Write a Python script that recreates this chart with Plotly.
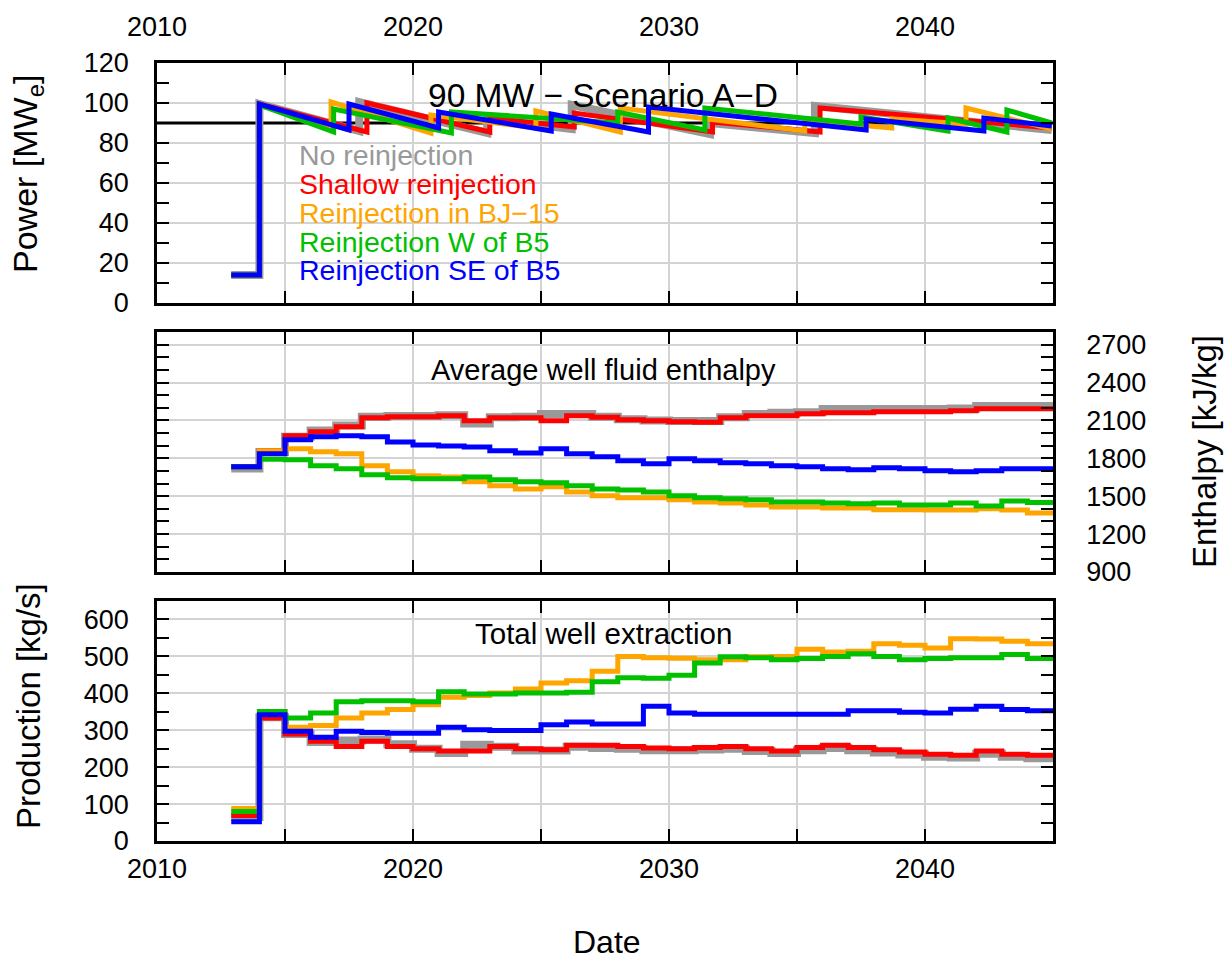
import plotly.graph_objects as go

# ---------------- data ----------------
scenarios = ["No reinjection", "Shallow reinjection", "Reinjection in BJ\u221215",
             "Reinjection W of B5", "Reinjection SE of B5"]
colors = ["#999999", "#ff0000", "#ffa500", "#00c000", "#0000ff"]
widths = [8, 5, 5, 5, 5]

target_power = 90  # MWe

# Power (sawtooth: repeated years mark make-up well jumps)
power_years = {
    "No reinjection": [2012.9, 2014.0, 2014.0, 2017.9, 2017.9, 2022.9, 2022.9, 2026.2, 2026.2,
                       2031.6, 2031.6, 2035.7, 2035.7, 2044.95],
    "Shallow reinjection": [2012.9, 2014.0, 2014.0, 2018.2, 2018.2, 2023.0, 2023.0, 2026.3, 2026.3,
                            2031.7, 2031.7, 2035.9, 2035.9, 2044.95],
    "Reinjection in BJ\u221215": [2012.9, 2014.0, 2014.0, 2016.8, 2016.8, 2020.7, 2020.7, 2024.8, 2024.8,
                             2028.1, 2028.1, 2035.3, 2035.3, 2038.7, 2038.7, 2041.6, 2041.6, 2044.95],
    "Reinjection W of B5": [2012.9, 2014.0, 2014.0, 2016.9, 2016.9, 2021.5, 2021.5, 2028.0, 2028.0,
                            2031.4, 2031.4, 2037.5, 2037.5, 2040.9, 2040.9, 2043.2, 2043.2, 2044.95],
    "Reinjection SE of B5": [2012.9, 2014.0, 2014.0, 2017.5, 2017.5, 2021.0, 2021.0, 2025.4, 2025.4,
                             2029.2, 2029.2, 2037.7, 2037.7, 2042.3, 2042.3, 2044.95],
}
power_values = {
    "No reinjection": [14, 14, 99.5, 86, 100.5, 85, 92, 87, 99, 84.5, 90, 85, 98.5, 86.5],
    "Shallow reinjection": [14, 14, 99.5, 85.5, 100, 85.5, 92.5, 88, 95, 85.5, 90.5, 85.5, 97.5, 87.5],
    "Reinjection in BJ\u221215": [14, 14, 99.5, 87, 100.5, 85, 94, 87.5, 96, 85.5, 97.5, 86, 91.5,
                             87.5, 92, 89.5, 97.5, 87],
    "Reinjection W of B5": [14, 14, 99, 85.5, 97, 85, 95.5, 90, 95.5, 86.5, 97.5, 89.5, 93,
                            86, 92.5, 85.5, 96.5, 90],
    "Reinjection SE of B5": [14, 14, 99.5, 86.5, 99.5, 87.5, 95.5, 86, 94.5, 85.5, 98, 86.5, 92,
                             86, 92.5, 88.5],
}

# Yearly step series (value held from each year to the next)
step_years = [2012.9] + list(range(2014, 2045))
end_year = 2045

enthalpy = {
    "No reinjection": [1720, 1850, 1970, 2020, 2060, 2130, 2135, 2135, 2140, 2075, 2125, 2130, 2150,
                       2150, 2130, 2110, 2100, 2095, 2095, 2125, 2150, 2160, 2165, 2190, 2190, 2190,
                       2190, 2190, 2195, 2215, 2215, 2215],
    "Shallow reinjection": [1733, 1860, 1978, 2010, 2049, 2121, 2129, 2129, 2137, 2097, 2121, 2121,
                            2097, 2137, 2125, 2105, 2097, 2089, 2085, 2121, 2137, 2137, 2153, 2161,
                            2161, 2169, 2169, 2169, 2177, 2193, 2193, 2193],
    "Reinjection in BJ\u221215": [1733, 1860, 1875, 1852, 1836, 1741, 1693, 1661, 1653, 1614, 1582,
                             1558, 1574, 1534, 1503, 1487, 1487, 1471, 1455, 1447, 1431, 1415,
                             1415, 1407, 1407, 1392, 1392, 1390, 1390, 1400, 1390, 1368],
    "Reinjection W of B5": [1733, 1792, 1788, 1741, 1717, 1669, 1646, 1638, 1638, 1653, 1630, 1614,
                            1606, 1582, 1558, 1550, 1534, 1503, 1487, 1479, 1471, 1455, 1455, 1447,
                            1440, 1447, 1431, 1431, 1447, 1423, 1463, 1450],
    "Reinjection SE of B5": [1733, 1836, 1947, 1970, 1978, 1970, 1930, 1906, 1898, 1890, 1860, 1843,
                             1875, 1836, 1812, 1780, 1756, 1796, 1780, 1764, 1756, 1741, 1733, 1717,
                             1709, 1725, 1717, 1701, 1693, 1701, 1717, 1717],
}

production = {
    "No reinjection": [65, 335, 290, 268, 272, 275, 262, 250, 238, 261, 255, 245, 245, 255, 252, 250,
                       246, 246, 248, 250, 244, 238, 246, 252, 246, 240, 234, 228, 226, 236, 228, 224],
    "Shallow reinjection": [69, 333, 290, 270, 256, 270, 256, 250, 244, 244, 256, 250, 247, 259, 259,
                            256, 252, 250, 253, 256, 250, 244, 253, 259, 253, 247, 241, 235, 232, 244,
                            235, 232],
    "Reinjection in BJ\u221215": [88, 351, 308, 313, 333, 347, 356, 369, 389, 394, 401, 412, 428, 434,
                             460, 500, 496, 495, 491, 491, 499, 500, 519, 512, 514, 534, 530, 523,
                             548, 547, 541, 534],
    "Reinjection W of B5": [80, 351, 333, 347, 377, 380, 380, 377, 404, 398, 398, 401, 401, 403, 431,
                            442, 441, 449, 482, 499, 496, 491, 494, 500, 507, 500, 491, 494, 496, 496,
                            505, 494],
    "Reinjection SE of B5": [52, 342, 297, 281, 297, 294, 292, 292, 308, 301, 299, 299, 315, 322, 317,
                             317, 365, 347, 343, 343, 343, 343, 343, 343, 353, 353, 349, 347, 357, 365,
                             356, 353],
}

x_tickvals = list(range(2010, 2046, 5))
x_ticktext = [str(v) if v % 10 == 0 else "" for v in x_tickvals]

# ---------------- layout geometry ----------------
W, H = 1231, 961
FONT = "Liberation Sans, Arial, Helvetica, sans-serif"
X0, X1 = 157, 1053
panels = [(63, 303), (332, 572), (601, 841)]


def ydom(top, bot):
    return [1 - bot / H, 1 - top / H]


fig = go.Figure()

step_x = step_years + [end_year]

fig.add_trace(go.Scatter(x=[2010, end_year], y=[target_power, target_power], mode="lines",
                         line=dict(color="black", width=3), xaxis="x", yaxis="y", showlegend=False))
for name, col, w in zip(scenarios, colors, widths):
    fig.add_trace(go.Scatter(x=power_years[name], y=power_values[name], mode="lines",
                             line=dict(color=col, width=w), xaxis="x", yaxis="y",
                             showlegend=False, name=name))

for name, col, w in zip(scenarios, colors, widths):
    fig.add_trace(go.Scatter(x=step_x, y=enthalpy[name] + [enthalpy[name][-1]], mode="lines",
                             line=dict(color=col, width=w, shape="hv"), xaxis="x2", yaxis="y2",
                             showlegend=False, name=name))

for name, col, w in zip(scenarios, colors, widths):
    fig.add_trace(go.Scatter(x=step_x, y=production[name] + [production[name][-1]], mode="lines",
                             line=dict(color=col, width=w, shape="hv"), xaxis="x3", yaxis="y3",
                             showlegend=False, name=name))

common = dict(showline=True, linecolor="black", linewidth=2.5, mirror="ticks", ticks="inside",
              ticklen=12, tickwidth=1.5, tickcolor="black", showgrid=True, gridcolor="#d3d3d3",
              gridwidth=1.5, zeroline=False, automargin=False,
              tickfont=dict(family=FONT, size=27, color="black"))

xdom = [X0 / W, X1 / W]
xcommon = dict(common, range=[2010, 2045], tickmode="array", tickvals=x_tickvals,
               ticktext=x_ticktext, domain=xdom)
minor_style = dict(ticks="inside", ticklen=12, tickcolor="black", tickwidth=1.5, showgrid=False)

fig.update_layout(
    width=W, height=H, margin=dict(l=0, r=0, t=0, b=0),
    paper_bgcolor="white", plot_bgcolor="white",
    font=dict(family=FONT, color="black"),
    xaxis=dict(xcommon, anchor="y", side="top", ticklabelstandoff=13),
    xaxis2=dict(xcommon, anchor="y2", showticklabels=False, matches="x"),
    xaxis3=dict(xcommon, anchor="y3", side="bottom", ticklabelstandoff=2),
    yaxis=dict(common, domain=ydom(*panels[0]), anchor="x", range=[0, 120], tickmode="array",
               tickvals=list(range(0, 121, 20)), ticklabelstandoff=20,
               minor=dict(minor_style, dtick=10)),
    yaxis2=dict(common, domain=ydom(*panels[1]), anchor="x2", side="right", range=[900, 2800],
                tickmode="array", tickvals=list(range(900, 2701, 300)), ticklabelstandoff=25,
                minor=dict(minor_style, dtick=100)),
    yaxis3=dict(common, domain=ydom(*panels[2]), anchor="x3", range=[0, 650], tickmode="array",
                tickvals=list(range(0, 601, 100)), ticklabelstandoff=20,
                minor=dict(minor_style, dtick=50)),
)


def note(text, px, py, size, color="black", angle=0, xanchor="center"):
    return dict(text=text, x=px / W, y=1 - py / H, xref="paper", yref="paper",
                xanchor=xanchor, yanchor="middle", textangle=angle, showarrow=False,
                font=dict(family=FONT, size=size, color=color))


ann = [
    note("90 MW \u2212 Scenario A\u2212D", 603, 95, 33.5),
    note("Average well fluid enthalpy", 603, 370, 29),
    note("Total well extraction", 603, 633, 29.5),
]
legend_y = [155, 184, 213, 242, 270]
for name, col, ly in zip(scenarios, colors, legend_y):
    ann.append(note(name, 297, ly, 28.5, color=col, xanchor="left"))
ann += [
    note("Power [MW<sub>e</sub>]", 28, 174, 34, angle=-90),
    note("Production [kg/s]", 28, 706, 33, angle=-90),
    note("Enthalpy [kJ/kg]", 1204, 452, 33, angle=-90),
    note("Date", 607, 942, 32),
]
fig.update_layout(annotations=ann)

fig.write_html("out.html")
